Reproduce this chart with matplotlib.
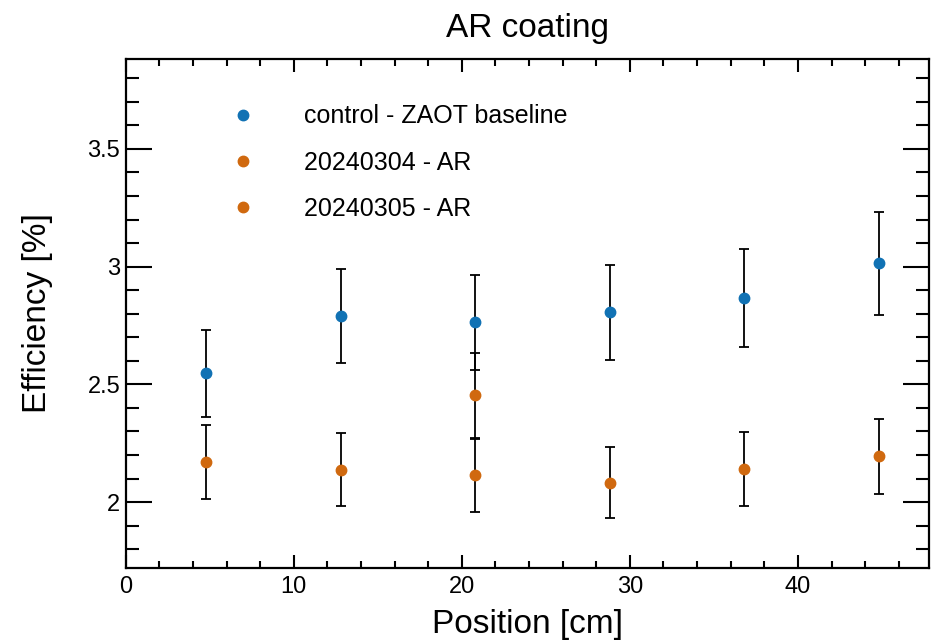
import matplotlib
matplotlib.use("Agg")
import matplotlib.pyplot as plt
from matplotlib.ticker import MultipleLocator

plt.rcParams['font.family'] = ['Liberation Sans', 'DejaVu Sans']

# Data
positions = [4.8, 12.8, 20.8, 28.8, 36.8, 44.8]
control_eff = [2.547, 2.790, 2.763, 2.806, 2.866, 3.014]
control_err = [0.185, 0.200, 0.200, 0.203, 0.209, 0.218]

ar0304_pos = [20.8]
ar0304_eff = [2.453]
ar0304_err = [0.180]

ar0305_pos = [4.8, 12.8, 20.8, 28.8, 36.8, 44.8]
ar0305_eff = [2.171, 2.138, 2.114, 2.082, 2.139, 2.195]
ar0305_err = [0.157, 0.155, 0.156, 0.151, 0.157, 0.160]

labels = ["control - ZAOT baseline", "20240304 - AR", "20240305 - AR"]
colors = ["#1172b4", "#d0690f", "#d0690f"]

fig = plt.figure(figsize=(9.32, 6.44), dpi=100)
ax = fig.add_axes([0.1349, 0.118, 0.9968 - 0.1349, 0.9084 - 0.118])

series = [(positions, control_eff, control_err),
          (ar0304_pos, ar0304_eff, ar0304_err),
          (ar0305_pos, ar0305_eff, ar0305_err)]
for (xs, ys, es), lab, col in zip(series, labels, colors):
    ax.errorbar(xs, ys, yerr=es, fmt='none', ecolor='black', elinewidth=1.3,
                capsize=3.5, capthick=1.3, zorder=2)
    ax.plot(xs, ys, 'o', color=col, markersize=7.5, label=lab, zorder=3,
            linestyle='none')

ax.set_xlim(0, 47.8)
ax.set_ylim(1.72, 3.882)

ax.xaxis.set_major_locator(MultipleLocator(10))
ax.xaxis.set_minor_locator(MultipleLocator(2))
ax.yaxis.set_major_locator(MultipleLocator(0.5))
ax.yaxis.set_minor_locator(MultipleLocator(0.1))
ax.yaxis.set_major_formatter(matplotlib.ticker.FuncFormatter(lambda v, p: f"{v:g}"))

ax.tick_params(axis='both', which='both', direction='in', top=True, right=True,
               width=1.5, labelsize=17, colors='black')
ax.tick_params(axis='x', which='major', length=9.5, pad=6)
ax.tick_params(axis='x', which='minor', length=5)
ax.tick_params(axis='y', which='major', length=18.5, pad=4)
ax.tick_params(axis='y', which='minor', length=9.5)
for s in ax.spines.values():
    s.set_linewidth(1.6)

ax.set_xlabel("Position [cm]", fontsize=24, labelpad=8)
ax.set_ylabel("Efficiency [%]", fontsize=24, labelpad=25)
ax.set_title("AR coating", fontsize=24, pad=16)

ax.legend(loc='upper left', bbox_to_anchor=(0.1068, 0.9355), frameon=False,
          fontsize=18, handletextpad=1.69, labelspacing=0.89, borderpad=0,
          handlelength=1.5)

fig.savefig("out.png", dpi=100)
